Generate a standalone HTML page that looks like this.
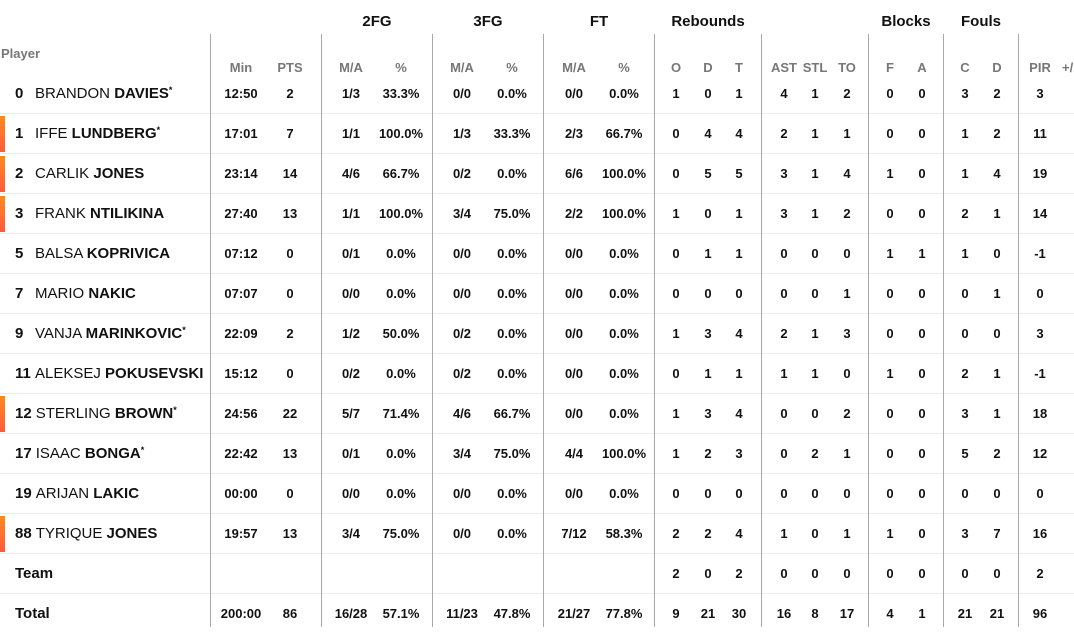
<!DOCTYPE html>
<html><head><meta charset="utf-8"><style>
body{margin:0;width:1074px;height:627px;background:#fff;font-family:"Liberation Sans",sans-serif;color:#111;position:relative;overflow:hidden}
.v{position:absolute;top:34px;bottom:0;width:1px;background:#a8a8a8}
.g{position:absolute;top:13px;font-weight:bold;font-size:15px;transform:translateX(-50%);white-space:nowrap}
.s{position:absolute;top:60px;font-weight:bold;font-size:13px;color:#777;width:60px;margin-left:-30px;text-align:center}
.r{position:absolute;left:0;width:1074px;height:40px;border-bottom:1px solid #ebebeb;box-sizing:border-box}
.r.last{border-bottom:none}
.bar{position:absolute;left:0;top:2px;width:5px;height:36px;background:linear-gradient(#ff8a1e,#ff5a3c)}
.nm{position:absolute;left:15px;top:11px;font-size:15px;white-space:nowrap}
.nm b.n{display:inline-block;min-width:16px;margin-right:4px}
.nm sup{font-size:9px;font-weight:bold;vertical-align:5px}
.r i{position:absolute;top:12px;font-style:normal;font-weight:bold;font-size:13px;width:60px;margin-left:-30px;text-align:center}
.r i:nth-of-type(1){left:241px}.r i:nth-of-type(2){left:290px}.r i:nth-of-type(3){left:351px}.r i:nth-of-type(4){left:401px}
.r i:nth-of-type(5){left:462px}.r i:nth-of-type(6){left:512px}.r i:nth-of-type(7){left:574px}.r i:nth-of-type(8){left:624px}
.r i:nth-of-type(9){left:676px}.r i:nth-of-type(10){left:708px}.r i:nth-of-type(11){left:739px}.r i:nth-of-type(12){left:784px}
.r i:nth-of-type(13){left:815px}.r i:nth-of-type(14){left:847px}.r i:nth-of-type(15){left:890px}.r i:nth-of-type(16){left:922px}
.r i:nth-of-type(17){left:965px}.r i:nth-of-type(18){left:997px}.r i:nth-of-type(19){left:1040px}
</style></head><body>
<div class="g" style="left:377px">2FG</div><div class="g" style="left:488px">3FG</div><div class="g" style="left:599px">FT</div>
<div class="g" style="left:708px">Rebounds</div><div class="g" style="left:906px">Blocks</div><div class="g" style="left:981px">Fouls</div>
<div style="position:absolute;left:1px;top:46px;font-weight:bold;font-size:13px;color:#777">Player</div>
<div class="s" style="left:241px">Min</div><div class="s" style="left:290px">PTS</div>
<div class="s" style="left:351px">M/A</div><div class="s" style="left:401px">%</div>
<div class="s" style="left:462px">M/A</div><div class="s" style="left:512px">%</div>
<div class="s" style="left:574px">M/A</div><div class="s" style="left:624px">%</div>
<div class="s" style="left:676px">O</div><div class="s" style="left:708px">D</div><div class="s" style="left:739px">T</div>
<div class="s" style="left:784px">AST</div><div class="s" style="left:815px">STL</div><div class="s" style="left:847px">TO</div>
<div class="s" style="left:890px">F</div><div class="s" style="left:922px">A</div>
<div class="s" style="left:965px">C</div><div class="s" style="left:997px">D</div>
<div class="s" style="left:1040px">PIR</div><div class="s" style="left:1068px;width:auto;margin-left:-6px">+/</div>

<div class="r" style="top:74px"><span class="nm"><b class="n">0</b>BRANDON <b>DAVIES</b><sup>*</sup></span><i>12:50</i><i>2</i><i>1/3</i><i>33.3%</i><i>0/0</i><i>0.0%</i><i>0/0</i><i>0.0%</i><i>1</i><i>0</i><i>1</i><i>4</i><i>1</i><i>2</i><i>0</i><i>0</i><i>3</i><i>2</i><i>3</i></div>
<div class="r" style="top:114px"><div class="bar"></div><span class="nm"><b class="n">1</b>IFFE <b>LUNDBERG</b><sup>*</sup></span><i>17:01</i><i>7</i><i>1/1</i><i>100.0%</i><i>1/3</i><i>33.3%</i><i>2/3</i><i>66.7%</i><i>0</i><i>4</i><i>4</i><i>2</i><i>1</i><i>1</i><i>0</i><i>0</i><i>1</i><i>2</i><i>11</i></div>
<div class="r" style="top:154px"><div class="bar"></div><span class="nm"><b class="n">2</b>CARLIK <b>JONES</b></span><i>23:14</i><i>14</i><i>4/6</i><i>66.7%</i><i>0/2</i><i>0.0%</i><i>6/6</i><i>100.0%</i><i>0</i><i>5</i><i>5</i><i>3</i><i>1</i><i>4</i><i>1</i><i>0</i><i>1</i><i>4</i><i>19</i></div>
<div class="r" style="top:194px"><div class="bar"></div><span class="nm"><b class="n">3</b>FRANK <b>NTILIKINA</b></span><i>27:40</i><i>13</i><i>1/1</i><i>100.0%</i><i>3/4</i><i>75.0%</i><i>2/2</i><i>100.0%</i><i>1</i><i>0</i><i>1</i><i>3</i><i>1</i><i>2</i><i>0</i><i>0</i><i>2</i><i>1</i><i>14</i></div>
<div class="r" style="top:234px"><span class="nm"><b class="n">5</b>BALSA <b>KOPRIVICA</b></span><i>07:12</i><i>0</i><i>0/1</i><i>0.0%</i><i>0/0</i><i>0.0%</i><i>0/0</i><i>0.0%</i><i>0</i><i>1</i><i>1</i><i>0</i><i>0</i><i>0</i><i>1</i><i>1</i><i>1</i><i>0</i><i>-1</i></div>
<div class="r" style="top:274px"><span class="nm"><b class="n">7</b>MARIO <b>NAKIC</b></span><i>07:07</i><i>0</i><i>0/0</i><i>0.0%</i><i>0/0</i><i>0.0%</i><i>0/0</i><i>0.0%</i><i>0</i><i>0</i><i>0</i><i>0</i><i>0</i><i>1</i><i>0</i><i>0</i><i>0</i><i>1</i><i>0</i></div>
<div class="r" style="top:314px"><span class="nm"><b class="n">9</b>VANJA <b>MARINKOVIC</b><sup>*</sup></span><i>22:09</i><i>2</i><i>1/2</i><i>50.0%</i><i>0/2</i><i>0.0%</i><i>0/0</i><i>0.0%</i><i>1</i><i>3</i><i>4</i><i>2</i><i>1</i><i>3</i><i>0</i><i>0</i><i>0</i><i>0</i><i>3</i></div>
<div class="r" style="top:354px"><span class="nm"><b class="n">11</b>ALEKSEJ <b>POKUSEVSKI</b></span><i>15:12</i><i>0</i><i>0/2</i><i>0.0%</i><i>0/2</i><i>0.0%</i><i>0/0</i><i>0.0%</i><i>0</i><i>1</i><i>1</i><i>1</i><i>1</i><i>0</i><i>1</i><i>0</i><i>2</i><i>1</i><i>-1</i></div>
<div class="r" style="top:394px"><div class="bar"></div><span class="nm"><b class="n">12</b>STERLING <b>BROWN</b><sup>*</sup></span><i>24:56</i><i>22</i><i>5/7</i><i>71.4%</i><i>4/6</i><i>66.7%</i><i>0/0</i><i>0.0%</i><i>1</i><i>3</i><i>4</i><i>0</i><i>0</i><i>2</i><i>0</i><i>0</i><i>3</i><i>1</i><i>18</i></div>
<div class="r" style="top:434px"><span class="nm"><b class="n">17</b>ISAAC <b>BONGA</b><sup>*</sup></span><i>22:42</i><i>13</i><i>0/1</i><i>0.0%</i><i>3/4</i><i>75.0%</i><i>4/4</i><i>100.0%</i><i>1</i><i>2</i><i>3</i><i>0</i><i>2</i><i>1</i><i>0</i><i>0</i><i>5</i><i>2</i><i>12</i></div>
<div class="r" style="top:474px"><span class="nm"><b class="n">19</b>ARIJAN <b>LAKIC</b></span><i>00:00</i><i>0</i><i>0/0</i><i>0.0%</i><i>0/0</i><i>0.0%</i><i>0/0</i><i>0.0%</i><i>0</i><i>0</i><i>0</i><i>0</i><i>0</i><i>0</i><i>0</i><i>0</i><i>0</i><i>0</i><i>0</i></div>
<div class="r" style="top:514px"><div class="bar"></div><span class="nm"><b class="n">88</b>TYRIQUE <b>JONES</b></span><i>19:57</i><i>13</i><i>3/4</i><i>75.0%</i><i>0/0</i><i>0.0%</i><i>7/12</i><i>58.3%</i><i>2</i><i>2</i><i>4</i><i>1</i><i>0</i><i>1</i><i>1</i><i>0</i><i>3</i><i>7</i><i>16</i></div>
<div class="r" style="top:554px"><span class="nm"><b>Team</b></span><i></i><i></i><i></i><i></i><i></i><i></i><i></i><i></i><i>2</i><i>0</i><i>2</i><i>0</i><i>0</i><i>0</i><i>0</i><i>0</i><i>0</i><i>0</i><i>2</i></div>
<div class="r last" style="top:594px"><span class="nm"><b>Total</b></span><i>200:00</i><i>86</i><i>16/28</i><i>57.1%</i><i>11/23</i><i>47.8%</i><i>21/27</i><i>77.8%</i><i>9</i><i>21</i><i>30</i><i>16</i><i>8</i><i>17</i><i>4</i><i>1</i><i>21</i><i>21</i><i>96</i></div>

<div class="v" style="left:210px"></div><div class="v" style="left:321px"></div><div class="v" style="left:432px"></div>
<div class="v" style="left:543px"></div><div class="v" style="left:654px"></div><div class="v" style="left:761px"></div>
<div class="v" style="left:868px"></div><div class="v" style="left:943px"></div><div class="v" style="left:1018px"></div>
</body></html>
